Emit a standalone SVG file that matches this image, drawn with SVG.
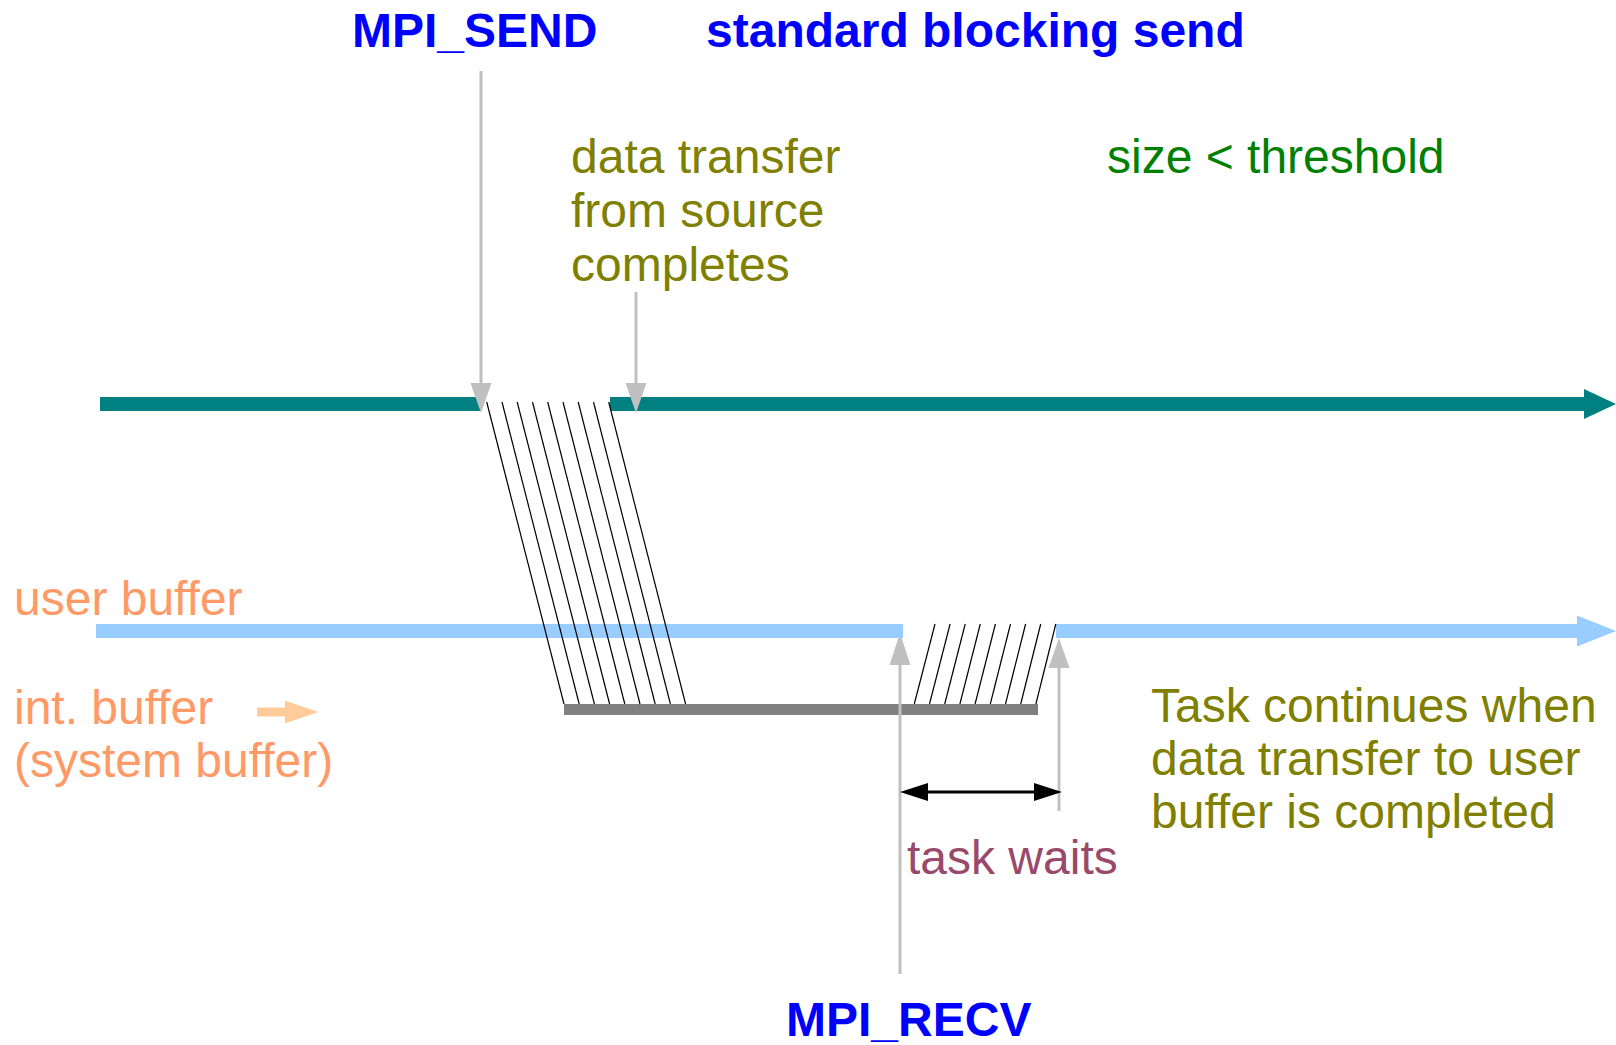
<svg xmlns="http://www.w3.org/2000/svg" width="1616" height="1045" viewBox="0 0 1616 1045">
  <style>
    text { font-family: "Liberation Sans", Arial, sans-serif; font-size: 48px; }
    .title { font-weight: bold; fill: #0000ff; }
    .olive { fill: #808000; }
    .green { fill: #008000; }
    .orange { fill: #ff9966; }
    .plum { fill: #994a6b; }
    .pointer { stroke: #c0c0c0; stroke-width: 3; fill: none; }
    .pointer-head { fill: #c0c0c0; }
    .hatch { stroke: #000000; stroke-width: 1.2; }
  </style>

  <!-- labels -->
  <g id="label-send">
    <text class="title" x="352" y="47">MPI_SEND</text>
  </g>
  <g id="label-title">
    <text class="title" x="706" y="47">standard blocking send</text>
  </g>
  <g id="label-source-done">
    <text class="olive" x="571" y="173">data transfer</text>
    <text class="olive" x="571" y="227">from source</text>
    <text class="olive" x="571" y="281">completes</text>
  </g>
  <g id="label-threshold">
    <text class="green" x="1107" y="173">size &lt; threshold</text>
  </g>
  <g id="label-user-buffer">
    <text class="orange" x="14" y="615">user buffer</text>
  </g>
  <g id="label-int-buffer">
    <text class="orange" x="14" y="724">int. buffer</text>
    <text class="orange" x="14" y="777">(system buffer)</text>
    <path d="M257,712 H286" stroke="#ffcc99" stroke-width="9"/>
    <polygon points="285,700.5 318,712 285,723.5" fill="#ffcc99"/>
  </g>
  <g id="label-continues">
    <text class="olive" x="1151" y="722">Task continues when</text>
    <text class="olive" x="1151" y="775">data transfer to user</text>
    <text class="olive" x="1151" y="828">buffer is completed</text>
  </g>
  <g id="label-waits">
    <text class="plum" x="907" y="874">task waits</text>
  </g>
  <g id="label-recv">
    <text class="title" x="786" y="1036">MPI_RECV</text>
  </g>

  <!-- timelines -->
  <g id="sender-timeline">
    <rect x="100" y="397" width="381" height="14" fill="#008080"/>
    <rect x="610" y="397" width="976" height="14" fill="#008080"/>
    <polygon points="1584,389 1616,404 1584,419" fill="#008080"/>
  </g>
  <g id="internal-buffer">
    <rect x="564" y="704" width="474" height="11" fill="#808080"/>
  </g>

  <!-- event pointers -->
  <g id="connectors">
    <path class="pointer" d="M481,71 V390"/>
    <polygon class="pointer-head" points="470.5,383 491.5,383 481,413"/>
    <path class="pointer" d="M636,292 V390"/>
    <polygon class="pointer-head" points="625.5,383 646.5,383 636,413"/>
    <path class="pointer" d="M900,974 V655"/>
    <polygon class="pointer-head" points="889.5,665 910.5,665 900,633"/>
    <path class="pointer" d="M1059,811 V660"/>
    <polygon class="pointer-head" points="1048.5,668 1069.5,668 1059,638"/>

    <!-- waiting interval -->
    <path d="M922,792 H1040" stroke="#000000" stroke-width="3"/>
    <polygon points="900,792 928,783 928,801" fill="#000000"/>
    <polygon points="1062,792 1034,783 1034,801" fill="#000000"/>
  </g>

  <g id="receiver-timeline">
    <rect x="96" y="624" width="807" height="14" fill="#99ccff"/>
    <rect x="1056" y="624" width="523" height="14" fill="#99ccff"/>
    <polygon points="1577,615.5 1616,631 1577,646.5" fill="#99ccff"/>
  </g>

  <!-- data transfer strokes -->
  <g id="transfer-to-system-buffer" class="hatch">
    <line x1="486.7" y1="402" x2="564" y2="704"/>
    <line x1="502" y1="402" x2="579.2" y2="704"/>
    <line x1="517.2" y1="402" x2="594.4" y2="704"/>
    <line x1="532.5" y1="402" x2="609.6" y2="704"/>
    <line x1="547.7" y1="402" x2="624.8" y2="704"/>
    <line x1="563" y1="402" x2="640" y2="704"/>
    <line x1="578.2" y1="402" x2="655.2" y2="704"/>
    <line x1="593.5" y1="402" x2="670.4" y2="704"/>
    <line x1="608.7" y1="402" x2="685.6" y2="704"/>
  </g>
  <g id="transfer-to-user-buffer" class="hatch">
    <line x1="935" y1="624" x2="914.3" y2="704"/>
    <line x1="950.1" y1="624" x2="929.5" y2="704"/>
    <line x1="965.2" y1="624" x2="944.7" y2="704"/>
    <line x1="980.3" y1="624" x2="959.9" y2="704"/>
    <line x1="995.4" y1="624" x2="975.1" y2="704"/>
    <line x1="1010.5" y1="624" x2="990.3" y2="704"/>
    <line x1="1025.6" y1="624" x2="1005.5" y2="704"/>
    <line x1="1040.7" y1="624" x2="1020.7" y2="704"/>
    <line x1="1055.8" y1="624" x2="1035.9" y2="704"/>
  </g>
</svg>
